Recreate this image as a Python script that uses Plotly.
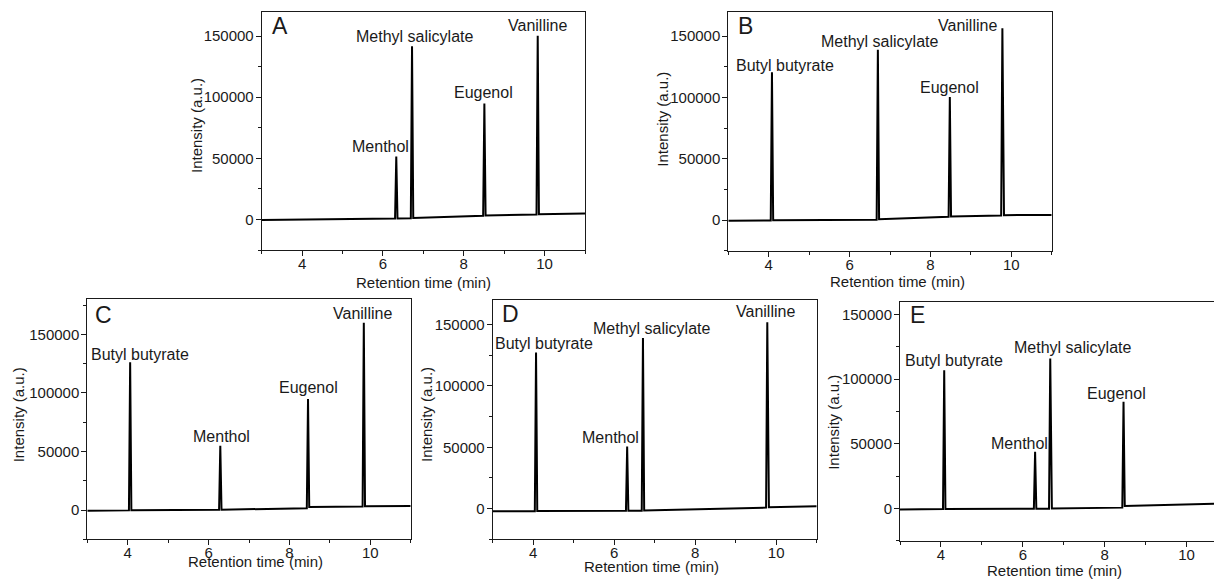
import plotly.graph_objects as go

W, H = 1214, 579

# ---------------- data (retention time in min, intensity in a.u.) ----------------
a_time = [3.0, 6.30, 6.33, 6.36, 6.69, 6.72, 6.75, 8.48, 8.51, 8.54, 9.80, 9.83, 9.86, 11.0]
a_int = [-500, 800, 51500, 800, 1000, 141700, 1200, 3000, 94800, 3300, 4000, 150400, 4300, 4900]

b_time = [3.0, 4.05, 4.08, 4.11, 6.67, 6.70, 6.73, 8.45, 8.48, 8.51, 9.75, 9.78, 9.82, 11.0]
b_int = [-500, -300, 120600, -200, 300, 139000, 600, 2600, 100300, 2900, 3700, 156400, 4000, 4200]

c_time = [3.0, 4.03, 4.06, 4.09, 6.26, 6.29, 6.32, 8.43, 8.46, 8.49, 9.81, 9.84, 9.87, 11.0]
c_int = [-600, -300, 126300, -200, 200, 54800, 300, 1500, 94800, 2600, 3100, 160000, 3300, 3400]

d_time = [3.0, 4.04, 4.07, 4.10, 6.29, 6.32, 6.35, 6.68, 6.71, 6.74, 9.75, 9.78, 9.82, 11.0]
d_int = [-2200, -2100, 127300, -1900, -1800, 50600, -1700, -1700, 139000, -1500, 800, 151800, 1200, 1900]

e_time = [3.0, 4.05, 4.08, 4.11, 6.27, 6.30, 6.33, 6.64, 6.67, 6.71, 8.43, 8.46, 8.49, 11.0]
e_int = [-800, -500, 107000, -400, -300, 43800, -200, -200, 116000, 0, 600, 82500, 1800, 3800]

# peak labels: (text, x, y)
a_labels = [("Menthol", 5.94, 59600), ("Methyl salicylate", 6.77, 149600),
            ("Eugenol", 8.49, 103500), ("Vanilline", 9.82, 159100)]
b_labels = [("Butyl butyrate", 4.40, 126000), ("Methyl salicylate", 6.74, 145500),
            ("Eugenol", 8.48, 108400), ("Vanilline", 8.91, 159100)]
c_labels = [("Butyl butyrate", 4.30, 132800), ("Menthol", 6.31, 62850),
            ("Eugenol", 8.46, 104300), ("Vanilline", 9.80, 167700)]
d_labels = [("Butyl butyrate", 4.26, 134900), ("Menthol", 5.90, 57900),
            ("Methyl salicylate", 6.93, 146900), ("Vanilline", 9.74, 160500)]
e_labels = [("Butyl butyrate", 4.31, 114400), ("Menthol", 5.93, 50250),
            ("Methyl salicylate", 7.22, 124200), ("Eugenol", 8.30, 88900)]

panel_letters = ["A", "B", "C", "D", "E"]
x_tickvals = [4, 6, 8, 10]
y_tickvals = [0, 50000, 100000, 150000]
x_title = "Retention time (min)"
y_title = "Intensity (a.u.)"

# ---------------- layout geometry (pixels) ----------------
panels = [
    dict(t=a_time, i=a_int, lab=a_labels, px=(261.7, 585.0), py=(11.7, 250.0), xr=(3, 11), yr=(-25000, 170000),
         letter_xy=(3.2, 158500), ytitle=(196, 125), xtitle=(423, 282.7), mirror_y=True),
    dict(t=b_time, i=b_int, lab=b_labels, px=(728.3, 1051.7), py=(11.7, 250.7), xr=(3, 11), yr=(-25000, 170000),
         letter_xy=(3.2, 158500), ytitle=(661.7, 119), xtitle=(897, 281.7), mirror_y=True),
    dict(t=c_time, i=c_int, lab=c_labels, px=(87.3, 410.7), py=(299.3, 539.3), xr=(3, 11), yr=(-25000, 180000),
         letter_xy=(3.15, 167000), ytitle=(18.3, 415), xtitle=(255.5, 561.7), mirror_y=True),
    dict(t=d_time, i=d_int, lab=d_labels, px=(492.7, 816.7), py=(300.0, 539.3), xr=(3, 11), yr=(-25000, 170000),
         letter_xy=(3.18, 158600), ytitle=(426, 415), xtitle=(651.7, 566.7), mirror_y=True),
    dict(t=e_time, i=e_int, lab=e_labels, px=(900.0, 1214.0), py=(301.7, 540.7), xr=(3, 10.67), yr=(-25000, 160000),
         letter_xy=(3.2, 150000), ytitle=(833.3, 422.5), xtitle=(1054, 570), mirror_y=False),
]

FONT = "Arial, Liberation Sans, sans-serif"
LINE = "#1a1a1a"

fig = go.Figure()
annotations = []
layout = dict(width=W, height=H, margin=dict(l=0, r=0, t=0, b=0),
              paper_bgcolor="white", plot_bgcolor="white", showlegend=False,
              font=dict(family=FONT, size=15, color="#1a1a1a"))

for k, p in enumerate(panels):
    n = "" if k == 0 else str(k + 1)
    xa, ya = "xaxis" + n, "yaxis" + n
    xr_, yr_ = "x" + n, "y" + n
    fig.add_trace(go.Scatter(x=p["t"], y=p["i"], mode="lines", xaxis=xr_, yaxis=yr_,
                             line=dict(color="black", width=2), hoverinfo="skip"))
    layout[xa] = dict(domain=[p["px"][0] / W, p["px"][1] / W], anchor=yr_, range=list(p["xr"]),
                      showgrid=False, zeroline=False, showline=True, linecolor=LINE, linewidth=1,
                      mirror=True, ticks="outside", ticklen=5, tickwidth=1, tickcolor=LINE,
                      tickvals=x_tickvals, ticklabelstandoff=-5,
                      tickfont=dict(size=15, family=FONT, color="#1a1a1a"),
                      minor=dict(dtick=1, tick0=3, ticks="outside", ticklen=3, tickcolor=LINE))
    layout[ya] = dict(domain=[1 - p["py"][1] / H, 1 - p["py"][0] / H], anchor=xr_, range=list(p["yr"]),
                      showgrid=False, zeroline=False, showline=True, linecolor=LINE, linewidth=1,
                      mirror=p["mirror_y"], ticks="outside", ticklen=5, tickwidth=1, tickcolor=LINE,
                      tickvals=y_tickvals, tickformat="d", ticklabelstandoff=-1,
                      tickfont=dict(size=15, family=FONT, color="#1a1a1a"),
                      minor=dict(dtick=25000, tick0=0, ticks="outside", ticklen=3, tickcolor=LINE))
    for text, lx, ly in p["lab"]:
        annotations.append(dict(x=lx, y=ly, xref=xr_, yref=yr_, text=text, showarrow=False,
                                xanchor="center", yanchor="middle",
                                font=dict(size=16, family=FONT, color="#1a1a1a")))
    annotations.append(dict(x=p["letter_xy"][0], y=p["letter_xy"][1], xref=xr_, yref=yr_,
                            text=panel_letters[k], showarrow=False, xanchor="left", yanchor="middle",
                            font=dict(size=23, family=FONT, color="#1a1a1a")))
    annotations.append(dict(x=p["ytitle"][0] / W, y=1 - p["ytitle"][1] / H, xref="paper", yref="paper",
                            text=y_title, textangle=-90, showarrow=False, xanchor="center", yanchor="middle",
                            font=dict(size=15, family=FONT, color="#1a1a1a")))
    annotations.append(dict(x=p["xtitle"][0] / W, y=1 - p["xtitle"][1] / H, xref="paper", yref="paper",
                            text=x_title, showarrow=False, xanchor="center", yanchor="middle",
                            font=dict(size=15, family=FONT, color="#1a1a1a")))

layout["annotations"] = annotations
fig.update_layout(**layout)
fig.write_html("out.html", config={"displayModeBar": False},
               post_script="document.body.style.margin='0';document.body.style.overflow='hidden';")
